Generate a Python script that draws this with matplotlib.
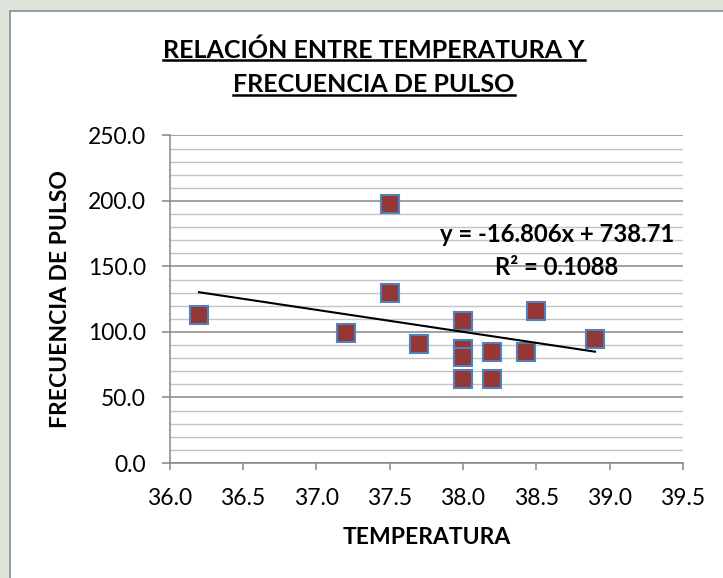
import matplotlib
matplotlib.use("Agg")
import matplotlib.pyplot as plt
from matplotlib.patches import Rectangle
from matplotlib.lines import Line2D
from matplotlib.ticker import MultipleLocator

# values
temperatura = [36.2, 37.2, 37.5, 37.5, 37.7, 38.0, 38.0, 38.0, 38.0, 38.2, 38.2, 38.43, 38.5, 38.9]
pulso = [113, 99, 198, 130, 91, 108, 87, 81, 64, 85, 64, 85, 116, 95]
slope, intercept = -16.806, 738.71
eq_text = "y = -16.806x + 738.71"
r2_text = "R² = 0.1088"
title_lines = ["RELACIÓN ENTRE TEMPERATURA Y", "FRECUENCIA DE PULSO"]
x_ticks = [36.0, 36.5, 37.0, 37.5, 38.0, 38.5, 39.0, 39.5]
y_ticks = [0, 50, 100, 150, 200, 250]

plt.rcParams["font.family"] = ["Lato", "DejaVu Sans"]

W, H = 723, 578
fig = plt.figure(figsize=(W / 100, H / 100), dpi=100, facecolor="#dde4da")
# white chart area with grey frame (runs off the right/bottom edge)
fig.patches.append(Rectangle((10 / W, -0.2), 1.2, 1.2 - 11 / H,
                             transform=fig.transFigure, facecolor="white",
                             edgecolor="#8c8c8c", lw=1.2, zorder=-10))

ax = fig.add_axes([169.7 / W, 1 - 463 / H, (683 - 169.7) / W, (463 - 135.4) / H])
ax.set_facecolor("none")
ax.set_xlim(36.0, 39.5)
ax.set_ylim(0, 250)
ax.set_xticks(x_ticks)
ax.set_xticklabels(["%.1f" % v for v in x_ticks])
ax.set_yticks(y_ticks)
ax.set_yticklabels(["%.1f" % v for v in y_ticks])
ax.yaxis.set_minor_locator(MultipleLocator(10))
ax.grid(axis="y", which="minor", color="#c4c4c4", lw=1.0, zorder=0)
ax.grid(axis="y", which="major", color="#888888", lw=1.1, zorder=0)
for s in ("top", "right"):
    ax.spines[s].set_visible(False)
for s in ("left", "bottom"):
    ax.spines[s].set_color("#888888")
    ax.spines[s].set_linewidth(1.1)
ax.tick_params(axis="y", which="major", length=6, width=1.1, color="#888888",
               labelsize=16.5, pad=11)
ax.tick_params(axis="y", which="minor", length=0)
ax.tick_params(axis="x", length=5, width=1.1, color="#888888", labelsize=16.5, pad=13)

ax.plot(temperatura, pulso, "s", ms=13.2, mfc="#953735", mec="#4f81bd", mew=1.5,
        zorder=4, clip_on=False)
x0, x1 = min(temperatura), max(temperatura)
ax.plot([x0, x1], [slope * x0 + intercept, slope * x1 + intercept], color="black",
        lw=1.5, zorder=5)

ax.text(38.64, 174, eq_text, ha="center", va="center", fontsize=17.2, fontweight="bold",
        zorder=6)
ax.text(38.64, 149.5, r2_text, ha="center", va="center", fontsize=17.2, fontweight="bold",
        zorder=6)

ax.set_xlabel("TEMPERATURA", fontsize=16.5, fontweight="bold")
ax.xaxis.set_label_coords(0.5, -(538 - 463) / (463 - 135.4))
ax.xaxis.label.set_va("center")
ax.set_ylabel("FRECUENCIA DE PULSO", fontsize=16.5, fontweight="bold")
ax.yaxis.set_label_coords((60.5 - 169.7) / (683 - 169.7), 0.5)
ax.yaxis.label.set_va("center")

# two-line underlined title
titles = []
for i, line in enumerate(title_lines):
    t = fig.text(374 / W, 1 - (50 + 35 * i) / H, line, ha="center", va="center",
                 fontsize=18, fontweight="bold")
    titles.append(t)
fig.canvas.draw()
r = fig.canvas.get_renderer()
for t in titles:
    bb = t.get_window_extent(r)
    yline = bb.y0 + 1.5
    fig.lines.append(Line2D([bb.x0 / W, bb.x1 / W], [yline / H, yline / H],
                            transform=fig.transFigure, color="black", lw=1.8))

fig.savefig("out.png", dpi=100, facecolor=fig.get_facecolor())
